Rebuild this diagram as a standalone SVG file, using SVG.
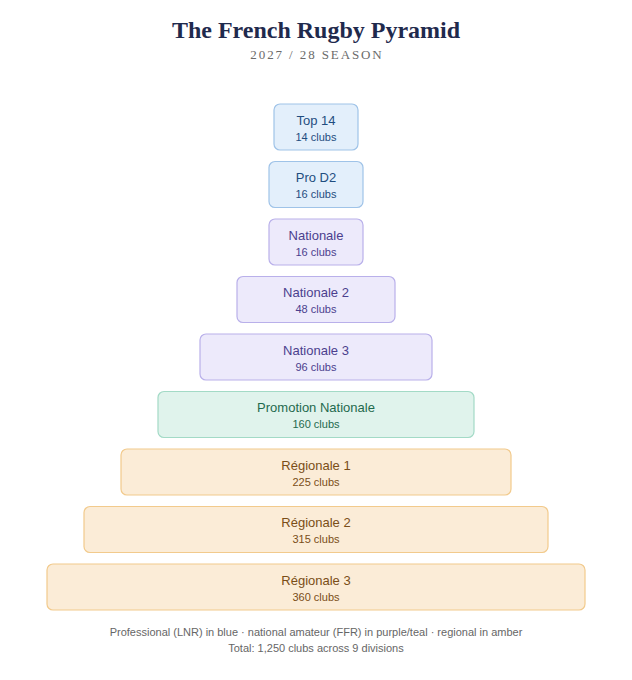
<svg xmlns="http://www.w3.org/2000/svg" width="632" height="680" viewBox="0 0 632 680">
<style>
.title{font-family:"Liberation Serif","DejaVu Serif",serif;font-weight:bold;font-size:24px;fill:#1f2a4d;text-anchor:middle}
.sub{font-family:"Liberation Serif","DejaVu Serif",serif;font-size:13px;letter-spacing:1.9px;fill:#6b6b6b;text-anchor:middle}
.nm{font-family:"Liberation Sans",Arial,sans-serif;font-size:13px;text-anchor:middle}
.ct{font-family:"Liberation Sans",Arial,sans-serif;font-size:11px;text-anchor:middle}
.foot{font-family:"Liberation Sans",Arial,sans-serif;font-size:11px;fill:#666;text-anchor:middle}
.blue rect{fill:#e3effb;stroke:#9fc3e8;stroke-width:1.2}
.blue text{fill:#1f4d80}
.purple rect{fill:#edeafb;stroke:#b9b0ea;stroke-width:1.2}
.purple text{fill:#4b3f8e}
.teal rect{fill:#e0f3ec;stroke:#a3dac6;stroke-width:1.2}
.teal text{fill:#1f6a4e}
.amber rect{fill:#fbecd7;stroke:#f2ca8c;stroke-width:1.2}
.amber text{fill:#7a4e18}
</style>
<rect width="632" height="680" fill="#fff"/>
<text class="title" x="316" y="38">The French Rugby Pyramid</text>
<text class="sub" x="317" y="59">2027 / 28 SEASON</text>
<g id="connectors"></g>
<g id="top14" class="blue"><rect x="274" y="104" width="84" height="46" rx="6"/><text class="nm" x="316" y="124.5">Top 14</text><text class="ct" x="316" y="140.5">14 clubs</text></g>
<g id="prod2" class="blue"><rect x="269" y="161.5" width="94" height="46" rx="6"/><text class="nm" x="316" y="182">Pro D2</text><text class="ct" x="316" y="198">16 clubs</text></g>
<g id="nationale" class="purple"><rect x="269" y="219" width="94" height="46" rx="6"/><text class="nm" x="316" y="239.5">Nationale</text><text class="ct" x="316" y="255.5">16 clubs</text></g>
<g id="nationale2" class="purple"><rect x="237" y="276.5" width="158" height="46" rx="6"/><text class="nm" x="316" y="297">Nationale 2</text><text class="ct" x="316" y="313">48 clubs</text></g>
<g id="nationale3" class="purple"><rect x="200" y="334" width="232" height="46" rx="6"/><text class="nm" x="316" y="354.5">Nationale 3</text><text class="ct" x="316" y="370.5">96 clubs</text></g>
<g id="promotion" class="teal"><rect x="158" y="391.5" width="316" height="46" rx="6"/><text class="nm" x="316" y="412">Promotion Nationale</text><text class="ct" x="316" y="428">160 clubs</text></g>
<g id="regionale1" class="amber"><rect x="121" y="449" width="390" height="46" rx="6"/><text class="nm" x="316" y="469.5">Régionale 1</text><text class="ct" x="316" y="485.5">225 clubs</text></g>
<g id="regionale2" class="amber"><rect x="84" y="506.5" width="464" height="46" rx="6"/><text class="nm" x="316" y="527">Régionale 2</text><text class="ct" x="316" y="543">315 clubs</text></g>
<g id="regionale3" class="amber"><rect x="47" y="564" width="538" height="46" rx="6"/><text class="nm" x="316" y="584.5">Régionale 3</text><text class="ct" x="316" y="600.5">360 clubs</text></g>
<text class="foot" x="316" y="635.5">Professional (LNR) in blue · national amateur (FFR) in purple/teal · regional in amber</text>
<text class="foot" x="316" y="652">Total: 1,250 clubs across 9 divisions</text>
</svg>
